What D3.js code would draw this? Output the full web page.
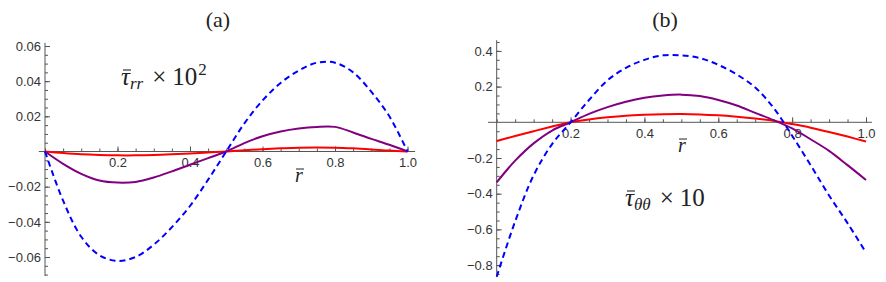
<!DOCTYPE html>
<html><head><meta charset="utf-8">
<script src="https://cdn.jsdelivr.net/npm/d3@7"></script>
<style>
html,body{margin:0;padding:0;background:#fff;}
svg{display:block;}
.tick text{font-family:"Liberation Sans",Arial,sans-serif;font-size:13px;fill:#333;}
.ser{font-family:"Liberation Serif","Times New Roman",serif;fill:#222;}
</style></head>
<body>
<svg id="c" width="886" height="282"></svg>
<script>
// ---- data ----
const rVals = [0,0.05,0.1,0.15,0.2,0.25,0.3,0.35,0.4,0.45,0.5,0.55,0.6,0.65,0.7,0.75,0.8,0.85,0.9,0.95,1.0];

// panel (a): tau_rr x 10^2
const aRed    = [0,-0.0009,-0.0016,-0.002,-0.0022,-0.0022,-0.002,-0.0016,-0.0011,-0.0005,0,0.0007,0.0013,0.0018,0.0022,0.0023,0.0022,0.0018,0.0012,0.0005,0];
const aPurple = [0,-0.007,-0.0127,-0.0165,-0.0177,-0.0173,-0.0148,-0.0113,-0.0075,-0.0038,0,0.0048,0.0087,0.0114,0.0131,0.014,0.014,0.0108,0.0072,0.0038,0];
const aBlue   = [0,-0.028,-0.0485,-0.059,-0.0622,-0.060,-0.053,-0.043,-0.031,-0.016,0,0.016,0.029,0.039,0.046,0.0505,0.0505,0.045,0.034,0.02,0];

// panel (b): tau_thetatheta x 10
const bRed    = [-0.105,-0.077,-0.05,-0.024,0,0.016,0.028,0.037,0.042,0.045,0.046,0.044,0.039,0.031,0.021,0.008,-0.01,-0.03,-0.054,-0.08,-0.108];
const bPurple = [-0.336,-0.215,-0.118,-0.046,0,0.047,0.085,0.115,0.137,0.15,0.155,0.147,0.125,0.094,0.053,0.012,-0.034,-0.095,-0.16,-0.24,-0.323];
const bBlue   = [-0.865,-0.555,-0.297,-0.122,0,0.125,0.235,0.305,0.35,0.375,0.375,0.36,0.322,0.268,0.195,0.08,-0.075,-0.24,-0.41,-0.565,-0.73];

const xMajor = [0.2,0.4,0.6,0.8,1.0];
const xMinor = [0,0.05,0.1,0.15,0.2,0.25,0.3,0.35,0.4,0.45,0.5,0.55,0.6,0.65,0.7,0.75,0.8,0.85,0.9,0.95,1.0];
const aYMajor = [-0.06,-0.04,-0.02,0.02,0.04,0.06];
const aYMinor = [-0.07,-0.065,-0.06,-0.055,-0.05,-0.045,-0.04,-0.035,-0.03,-0.025,-0.02,-0.015,-0.01,-0.005,0.005,0.01,0.015,0.02,0.025,0.03,0.035,0.04,0.045,0.05,0.055,0.06];
const bYMajor = [-0.8,-0.6,-0.4,-0.2,0.2,0.4];
const bYMinor = [-0.85,-0.8,-0.75,-0.7,-0.65,-0.6,-0.55,-0.5,-0.45,-0.4,-0.35,-0.3,-0.25,-0.2,-0.15,-0.1,-0.05,0.05,0.1,0.15,0.2,0.25,0.3,0.35,0.4,0.45];

const seriesColors = {red:"#ff0000", purple:"#800080", blue:"#0000ff"};

const svg = d3.select("#c");

function panel(cfg){
  const g = svg.append("g");
  const x = d3.scaleLinear().domain([0,1]).range(cfg.xr);
  const y = d3.scaleLinear().domain(cfg.yd).range(cfg.yr);
  const axisCol = "#555";

  // y axis
  const ya = g.append("g").attr("transform",`translate(${x(0)},0)`);
  ya.call(d3.axisLeft(y).tickValues(cfg.yMinor).tickSize(-3).tickFormat(""));
  ya.append("g").call(d3.axisLeft(y).tickValues(cfg.yMajor).tickSize(-5).tickPadding(4).tickFormat(d3.format(cfg.yfmt)));
  ya.selectAll(".domain").remove();
  ya.selectAll("line").attr("stroke",axisCol);
  ya.append("line").attr("x1",0).attr("x2",0).attr("y1",y(cfg.yAxisExt[0])).attr("y2",y(cfg.yAxisExt[1])).attr("stroke",axisCol);

  // x axis
  const xa = g.append("g").attr("transform",`translate(0,${y(0)})`);
  xa.call(d3.axisBottom(x).tickValues(xMinor).tickSize(-3).tickFormat(""));
  xa.append("g").call(d3.axisBottom(x).tickValues(xMajor).tickSize(-5).tickPadding(6).tickFormat(d3.format(".1f")));
  xa.selectAll(".domain").remove();
  xa.selectAll("line").attr("stroke",axisCol);
  xa.append("line").attr("y1",0).attr("y2",0).attr("x1",x(cfg.xAxisExt[0])).attr("x2",x(cfg.xAxisExt[1])).attr("stroke",axisCol);

  const line = d3.line().x((d,i)=>x(rVals[i])).y(d=>y(d)).curve(d3.curveCatmullRom);
  cfg.series.forEach(s=>{
    g.append("path").attr("d",line(s.v)).attr("fill","none")
      .attr("stroke",seriesColors[s.c]).attr("stroke-width",2)
      .attr("stroke-dasharray",s.dash||null);
  });

  // r-bar label
  g.append("text").attr("class","ser").attr("x",cfg.rlab[0]).attr("y",cfg.rlab[1])
    .attr("text-anchor","middle").attr("font-style","italic")
    .attr("font-size",20).text("r");
  g.append("line").attr("x1",cfg.rlab[0]-3).attr("x2",cfg.rlab[0]+5)
    .attr("y1",cfg.rlab[1]-13).attr("y2",cfg.rlab[1]-13).attr("stroke","#222").attr("stroke-width",1);

  // title
  g.append("text").attr("class","ser").attr("x",cfg.title[0]).attr("y",cfg.title[1]).attr("text-anchor","middle")
    .attr("font-size",22).text(cfg.titleText);
  return {g,x,y};
}

const A = panel({
  xr:[45,407.5], yd:[-0.06,0.06], yr:[257,46], yfmt:".2f",
  yMajor:aYMajor, yMinor:aYMinor, yAxisExt:[-0.0708,0.0618], xAxisExt:[-0.017,1.021],
  series:[{v:aRed,c:"red"},{v:aPurple,c:"purple"},{v:aBlue,c:"blue",dash:"6,4"}],
  rlab:[299,182], title:[218,27], titleText:"(a)"
});
const B = panel({
  xr:[496.7,866], yd:[-0.8,0.4], yr:[265.1,50.9], yfmt:".1f",
  yMajor:bYMajor, yMinor:bYMinor, yAxisExt:[-0.866,0.46], xAxisExt:[-0.0235,1.016],
  series:[{v:bRed,c:"red"},{v:bPurple,c:"purple"},{v:bBlue,c:"blue",dash:"6,4"}],
  rlab:[682,152], title:[665,27], titleText:"(b)"
});

// annotations
function annot(x0,y0,sub,pow){
  const fs = 25;
  const tau = svg.append("text").attr("class","ser").attr("x",x0).attr("y",y0)
    .attr("font-size",fs).attr("font-style","italic").text("\u03C4");
  const tw = tau.node().getComputedTextLength();
  svg.append("line").attr("x1",x0+2).attr("x2",x0+tw+1).attr("y1",y0-15).attr("y2",y0-15)
    .attr("stroke","#222").attr("stroke-width",1.1);
  const s = svg.append("text").attr("class","ser").attr("x",x0+tw).attr("y",y0+4)
    .attr("font-size",17).attr("font-style","italic").text(sub);
  const sw = s.node().getComputedTextLength();
  const cx = x0+tw+sw+9;
  const m = svg.append("text").attr("class","ser").attr("x",cx).attr("y",y0).attr("font-size",fs).text("\u00D7");
  const mw = m.node().getComputedTextLength();
  const t = svg.append("text").attr("class","ser").attr("x",cx+mw+6).attr("y",y0).attr("font-size",fs).text("10");
  const t10 = t.node().getComputedTextLength();
  if(pow) svg.append("text").attr("class","ser").attr("x",cx+mw+6+t10+1).attr("y",y0-10).attr("font-size",17).text(pow);
}
annot(121,85,"rr","2");
annot(625,206,"\u03B8\u03B8",null);
</script>
</body></html>
